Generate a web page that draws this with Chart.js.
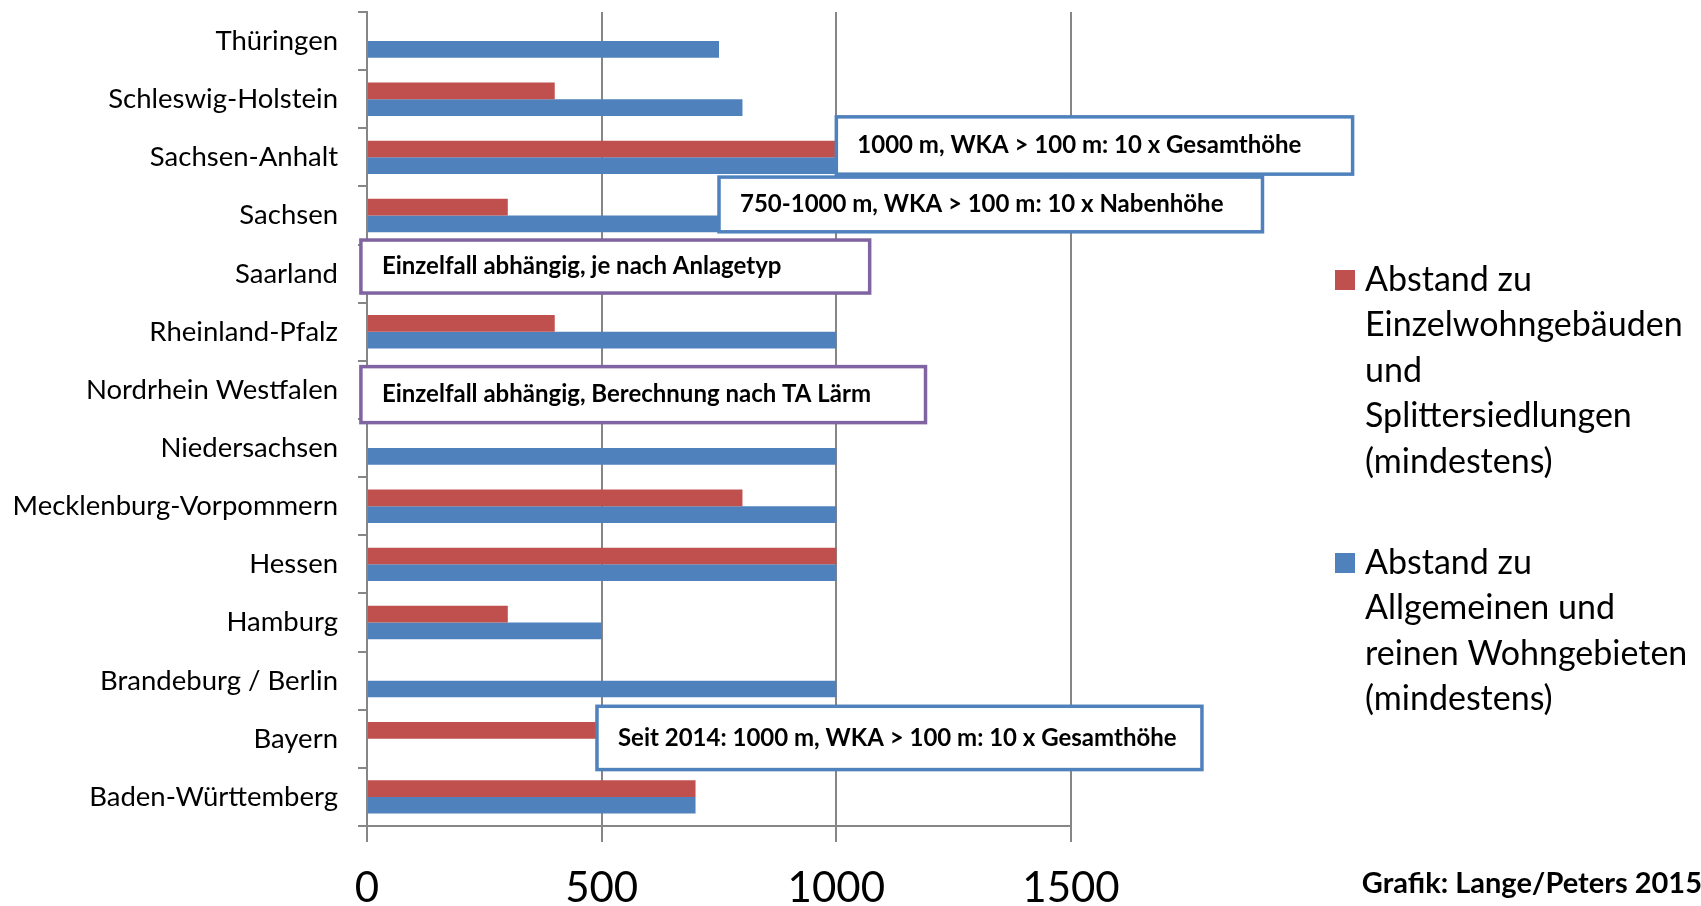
<!DOCTYPE html>
<html>
<head>
<meta charset="utf-8">
<script src="https://cdn.jsdelivr.net/npm/chart.js@4"></script>
<style>
  html, body { margin: 0; padding: 0; background: #fff; }
  #wrap { width: 1701px; height: 906px; }
</style>
</head>
<body>
<div id="wrap"><canvas id="c" width="1701" height="906"></canvas></div>
<script>
// Bundesländer, top to bottom
const states = [
  'Thüringen', 'Schleswig-Holstein', 'Sachsen-Anhalt', 'Sachsen', 'Saarland',
  'Rheinland-Pfalz', 'Nordrhein Westfalen', 'Niedersachsen', 'Mecklenburg-Vorpommern',
  'Hessen', 'Hamburg', 'Brandeburg / Berlin', 'Bayern', 'Baden-Württemberg'
];

// Mindestabstand in m
const einzelwohn  = [null, 400, 1000, 300, null, 400, null, null, 800, 1000, 300, null, 1000, 700];
const wohngebiete = [750, 800, 1000, 750, null, 1000, null, 1000, 1000, 1000, 500, 1000, null, 700];

const seriesNames = [
  ['Abstand zu', 'Einzelwohngebäuden', 'und', 'Splittersiedlungen', '(mindestens)'],
  ['Abstand zu', 'Allgemeinen und', 'reinen Wohngebieten', '(mindestens)']
];

const xTicks = [0, 500, 1000, 1500];

// Hinweise zu einzelnen Ländern
const noteTexts = [
  '1000 m, WKA > 100 m: 10 x Gesamthöhe',
  '750-1000 m, WKA > 100 m: 10 x Nabenhöhe',
  'Einzelfall abhängig, je nach Anlagetyp',
  'Einzelfall abhängig, Berechnung nach TA Lärm',
  'Seit 2014: 1000 m, WKA > 100 m: 10 x Gesamthöhe'
];
const noteRows = ['Sachsen-Anhalt', 'Sachsen', 'Saarland', 'Nordrhein Westfalen', 'Bayern'];

// Box placement: x range in axis units, y offsets in px from the row centre
const noteLayout = [
  { from: 1000, to: 2100, up: 40.5, down: 16.8, color: '#4f81bd' },
  { from: 750,  to: 1908, up: 38.4, down: 16.3, color: '#4f81bd' },
  { from: -13,  to: 1071, up: 33.6, down: 19.4, color: '#8064a2' },
  { from: -13,  to: 1190, up: 23.3, down: 32.7, color: '#8064a2' },
  { from: 490,  to: 1779, up: 32.5, down: 30.8, color: '#4f81bd' }
];

const FONT = 'Lato, "Open Sans", sans-serif';
const RED = '#c0504d';
const BLUE = '#4f81bd';
const AXIS = '#868686';

const notesPlugin = {
  id: 'notes',
  afterDatasetsDraw(chart) {
    const { ctx, scales: { x, y } } = chart;
    ctx.save();
    ctx.font = 'bold 24px ' + FONT;
    ctx.textBaseline = 'middle';
    ctx.textAlign = 'left';
    noteTexts.forEach((txt, i) => {
      const L = noteLayout[i];
      const cy = y.getPixelForValue(states.indexOf(noteRows[i]));
      const x0 = x.getPixelForValue(L.from);
      const x1 = x.getPixelForValue(L.to);
      const y0 = cy - L.up, y1 = cy + L.down;
      ctx.fillStyle = '#fff';
      ctx.fillRect(x0, y0, x1 - x0, y1 - y0);
      ctx.lineWidth = 3.5;
      ctx.strokeStyle = L.color;
      ctx.strokeRect(x0, y0, x1 - x0, y1 - y0);
      ctx.fillStyle = '#000';
      ctx.fillText(txt, x0 + 21, (y0 + y1) / 2);
    });
    ctx.restore();
  }
};

const legendPlugin = {
  id: 'sideLegend',
  afterDraw(chart) {
    const { ctx } = chart;
    const left = 1335, box = 20, textX = 1365, lineH = 45.5;
    const starts = [280, 563];
    ctx.save();
    ctx.font = '34px ' + FONT;
    ctx.textBaseline = 'middle';
    ctx.textAlign = 'left';
    chart.data.datasets.forEach((ds, i) => {
      const y0 = starts[i];
      ctx.fillStyle = ds.backgroundColor;
      ctx.fillRect(left, y0 - box / 2, box, box);
      ctx.fillStyle = '#000';
      ds.label.forEach((line, k) => ctx.fillText(line, textX, y0 + k * lineH));
    });
    ctx.font = 'bold 29px ' + FONT;
    ctx.textAlign = 'right';
    ctx.fillText('Grafik: Lange/Peters 2015', 1702, 884);
    ctx.restore();
  }
};

new Chart(document.getElementById('c'), {
  type: 'bar',
  data: {
    labels: states,
    datasets: [
      { label: seriesNames[0], data: einzelwohn, backgroundColor: RED,
        categoryPercentage: 0.574, barPercentage: 1.0 },
      { label: seriesNames[1], data: wohngebiete, backgroundColor: BLUE,
        categoryPercentage: 0.574, barPercentage: 1.0 }
    ]
  },
  options: {
    indexAxis: 'y',
    responsive: false,
    animation: false,
    layout: { padding: { top: 12, right: 630, left: 0, bottom: 0 } },
    plugins: { legend: { display: false }, tooltip: { enabled: false } },
    scales: {
      x: {
        min: xTicks[0],
        max: xTicks[xTicks.length - 1],
        afterBuildTicks(scale) { scale.ticks = xTicks.map(v => ({ value: v })); },
        afterFit(scale) { scale.height = 80; scale.paddingLeft = 0; scale.paddingRight = 0; },
        grid: { color: AXIS, lineWidth: 2, tickLength: 16, drawTicks: true },
        border: { color: AXIS, width: 2 },
        ticks: {
          font: { family: FONT, size: 42 }, color: '#000', padding: 21,
          callback: (v) => String(v)
        }
      },
      y: {
        afterFit(scale) { scale.width = 367; scale.paddingTop = 0; scale.paddingBottom = 0; },
        grid: { drawOnChartArea: false, color: AXIS, lineWidth: 2, tickLength: 9, offset: true },
        border: { color: AXIS, width: 2 },
        ticks: { font: { family: FONT, size: 27.5 }, color: '#000', padding: 20 }
      }
    }
  },
  plugins: [notesPlugin, legendPlugin]
});
</script>
</body>
</html>
